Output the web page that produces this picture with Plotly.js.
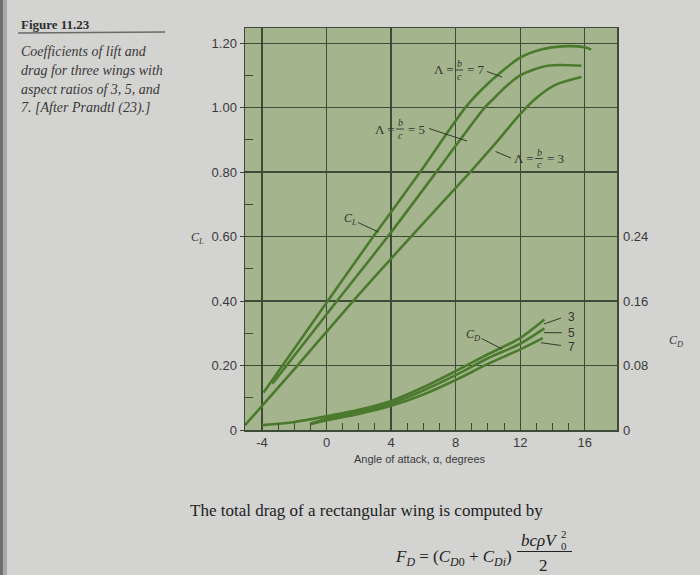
<!DOCTYPE html>
<html>
<head>
<meta charset="utf-8">
<script src="https://cdn.plot.ly/plotly-3.0.1.min.js"></script>
<style>
html,body{margin:0;padding:0;background:#d3d3d1;}
#chart{width:700px;height:575px;}
</style>
</head>
<body>
<div id="chart"></div>
<script>
// ---- data ----
// Lift coefficient C_L vs angle of attack (degrees)
const alphaCL7 = [-3.9, 0, 2.9, 5.8, 8.6, 9.7, 10.8, 12, 13.3, 14.6, 16, 16.4];
const cl7      = [0.116, 0.395, 0.60, 0.80, 1.00, 1.06, 1.11, 1.155, 1.18, 1.19, 1.187, 1.18];
const alphaCL5 = [-3.35, 0.65, 3.8, 6.8, 9.8, 10.4, 11, 12, 13.7, 15.8];
const cl5      = [0.144, 0.40, 0.60, 0.80, 1.00, 1.03, 1.06, 1.10, 1.13, 1.13];
const alphaCL3 = [-5.05, -1.8, 1.65, 5.24, 8.9, 10.4, 12, 13, 14.15, 15.8];
const cl3      = [0.015, 0.20, 0.40, 0.60, 0.80, 0.885, 0.98, 1.03, 1.07, 1.095];
// Drag coefficient C_D vs angle of attack (degrees)
const alphaCD3 = [-4, -2, 0, 2, 4, 6, 8, 10, 12, 13.5];
const cd3      = [0.006, 0.010, 0.017, 0.025, 0.036, 0.053, 0.073, 0.094, 0.114, 0.137];
const alphaCD5 = [-1, 0, 2, 4, 6, 8, 10, 12, 13.5];
const cd5      = [0.008, 0.014, 0.023, 0.033, 0.049, 0.068, 0.089, 0.107, 0.126];
const alphaCD7 = [-1, 0, 2, 4, 6, 8, 10, 12, 13.4];
const cd7      = [0.007, 0.012, 0.020, 0.030, 0.044, 0.062, 0.082, 0.100, 0.114];
// Tick labels
const xTicks   = [-4, 0, 4, 8, 12, 16];
const clTicks  = [0, 0.2, 0.4, 0.6, 0.8, 1.0, 1.2];
const clLabels = ['0', '0.20', '0.40', '0.60', '0.80', '1.00', '1.20'];
const cdTicks  = [0, 0.08, 0.16, 0.24];
const cdLabels = ['0', '0.08', '0.16', '0.24'];

// ---- styling / layout ----
const L = 245, R = 617, T = 28, B = 430, W = 700, H = 575;
const CL_MAX = 1.247;
const green = '#4b7a2e';
const gridC = '#3e4a38';
const textC = '#3a3a3a';
const serif = 'Liberation Serif, Times New Roman, serif';
const sans = 'Liberation Sans, Arial, sans-serif';

function P(px, py) { return {x: (px - L) / (R - L), y: (B - py) / (B - T)}; }
function txt(px, py, text, size, fam, anchor, color, style, weight) {
  const p = P(px, py);
  return {xref: 'paper', yref: 'paper', x: p.x, y: p.y, text: text, showarrow: false,
    xanchor: anchor || 'center', yanchor: 'middle',
    font: {size: size, family: fam || serif, color: color || textC,
           style: style || 'normal', weight: weight || 'normal'}};
}
function seg(px0, py0, px1, py1, color, w) {
  const a = P(px0, py0), b = P(px1, py1);
  return {type: 'line', xref: 'paper', yref: 'paper', x0: a.x, y0: a.y, x1: b.x, y1: b.y,
    line: {color: color || '#2e3a2a', width: w || 1}};
}

function line(x, y, axis) {
  return {x: x, y: y, yaxis: axis || 'y', type: 'scatter', mode: 'lines',
    line: {color: green, width: 2.6, shape: 'spline', smoothing: 0.8},
    hoverinfo: 'skip', showlegend: false, cliponaxis: true};
}

const traces = [
  line(alphaCL7, cl7), line(alphaCL5, cl5), line(alphaCL3, cl3),
  line(alphaCD3, cd3, 'y2'), line(alphaCD5, cd5, 'y2'), line(alphaCD7, cd7, 'y2')
];

const minorX = [];
for (let v = -4; v <= 16; v++) minorX.push(v);

const ann = [];
const shp = [];

// left page edge shading
shp.push({type: 'rect', xref: 'paper', yref: 'paper', x0: P(0,0).x, x1: P(3,0).x, y0: P(0,H).y, y1: P(0,0).y,
  line: {width: 0}, fillcolor: '#6f6f6f', layer: 'below'});
shp.push({type: 'rect', xref: 'paper', yref: 'paper', x0: P(3,0).x, x1: P(7,0).x, y0: P(0,H).y, y1: P(0,0).y,
  line: {width: 0}, fillcolor: '#a9a9a8', layer: 'below'});

// caption
ann.push(txt(19, 24, 'Figure 11.23', 13, serif, 'left', '#2e2e2e', 'normal', 'bold'));
shp.push(seg(18, 33, 165, 32, '#6a6a6a', 1.6));
const cap = ['Coefficients of lift and', 'drag for three wings with', 'aspect ratios of 3, 5, and', '7. [After Prandtl (23).]'];
const capY = [51.7, 70.7, 90, 108];
cap.forEach((c, i) => ann.push(txt(19, capY[i], c, 14, serif, 'left', '#383838', 'italic')));

// axis side labels
ann.push(txt(197, 238, 'C<sub>L</sub>', 12, serif, 'center', textC, 'italic'));
ann.push(txt(676, 341, 'C<sub>D</sub>', 12, serif, 'center', textC, 'italic'));
ann.push(txt(420, 459, 'Angle of attack, α, degrees', 11, sans, 'center'));

// Aspect-ratio labels with fractions b/c
function lam(pxStart, py, val) {
  ann.push(txt(pxStart, py, 'Λ =', 13, serif, 'left', '#333'));
  const fx = pxStart + 27;
  ann.push(txt(fx, py - 6.5, 'b', 10, serif, 'center', '#333', 'italic'));
  ann.push(txt(fx, py + 6.5, 'c', 10, serif, 'center', '#333', 'italic'));
  shp.push(seg(fx - 4, py, fx + 4, py, '#333', 0.9));
  ann.push(txt(fx + 6, py, '= ' + val, 13, serif, 'left', '#333'));
}
lam(432, 70, '7');
shp.push(seg(487, 71.5, 502, 77, '#2e3a2a', 1));
lam(373, 129, '5');
shp.push(seg(429, 128.5, 467, 141, '#2e3a2a', 1));
lam(512, 158.5, '3');
shp.push(seg(495.5, 151.5, 511, 158, '#2e3a2a', 1));

// C_L and C_D curve labels
ann.push(txt(350, 218.5, 'C<sub>L</sub>', 12, serif, 'center', '#333', 'italic'));
shp.push(seg(358, 222.5, 378.5, 232, '#2e3a2a', 1));
ann.push(txt(473, 335, 'C<sub>D</sub>', 12, serif, 'center', '#333', 'italic'));
shp.push(seg(481.5, 338.5, 502, 349, '#2e3a2a', 1));

// 3, 5, 7 labels on C_D curves
ann.push(txt(566, 317, '3', 12, sans, 'left', '#333'));
shp.push(seg(544, 324, 561, 318, '#2e3a2a', 1));
ann.push(txt(566, 333, '5', 12, sans, 'left', '#333'));
shp.push(seg(544, 332.7, 562, 332.7, '#2e3a2a', 1));
ann.push(txt(566, 347, '7', 12, sans, 'left', '#333'));
shp.push(seg(541, 342.7, 561, 345.5, '#2e3a2a', 1));

// text below chart
ann.push(txt(188, 510, 'The total drag of a rectangular wing is computed by', 17, serif, 'left', '#222'));
ann.push(txt(514, 558, '<i>F</i><sub><i>D</i></sub> = (<i>C</i><sub><i>D</i>0</sub> + <i>C</i><sub><i>Di</i></sub>)', 17, serif, 'right', '#222'));
ann.push(txt(539, 540, 'bcρV', 17, serif, 'center', '#222', 'italic'));
ann.push(txt(564, 534, '2', 11, serif, 'center', '#222'));
ann.push(txt(564, 546, '0', 11, serif, 'center', '#222'));
shp.push(seg(517, 551.5, 572, 551.5, '#222', 1.1));
ann.push(txt(543.5, 565, '2', 17, serif, 'center', '#222'));

const layout = {
  width: W, height: H,
  margin: {l: L, r: W - R, t: T, b: H - B, pad: 0},
  paper_bgcolor: '#d3d3d1',
  plot_bgcolor: '#a4b58e',
  showlegend: false,
  xaxis: {
    range: [-5.05, 18], tickvals: xTicks, ticktext: xTicks.map(String),
    showgrid: true, gridcolor: gridC, gridwidth: 1.3, zeroline: false,
    showline: true, linecolor: gridC, linewidth: 1.5, mirror: true,
    ticks: '', tickfont: {family: sans, size: 13, color: textC},
    minor: {tickmode: 'array', tickvals: minorX, ticks: 'inside', ticklen: 7, tickcolor: gridC, tickwidth: 1, showgrid: false},
    fixedrange: true
  },
  yaxis: {
    range: [0, CL_MAX], tickvals: clTicks, ticktext: clLabels,
    showgrid: true, gridcolor: gridC, gridwidth: 1.3, zeroline: false,
    showline: true, linecolor: gridC, linewidth: 1.5, mirror: true,
    ticks: 'outside', ticklen: 4, tickcolor: gridC,
    tickfont: {family: sans, size: 13, color: textC},
    minor: {tickmode: 'array', tickvals: [0.1, 0.3, 0.5, 0.7, 0.9, 1.1], ticks: 'inside', ticklen: 8, tickcolor: gridC, tickwidth: 1, showgrid: false},
    fixedrange: true
  },
  yaxis2: {
    overlaying: 'y', side: 'right', range: [0, CL_MAX * 0.4],
    tickvals: cdTicks, ticktext: cdLabels, showgrid: false, zeroline: false,
    showline: false, ticks: '', ticklabelstandoff: 5,
    tickfont: {family: sans, size: 13, color: textC},
    fixedrange: true
  },
  annotations: ann,
  shapes: shp
};

Plotly.newPlot('chart', traces, layout, {displayModeBar: false, staticPlot: true});
</script>
</body>
</html>
